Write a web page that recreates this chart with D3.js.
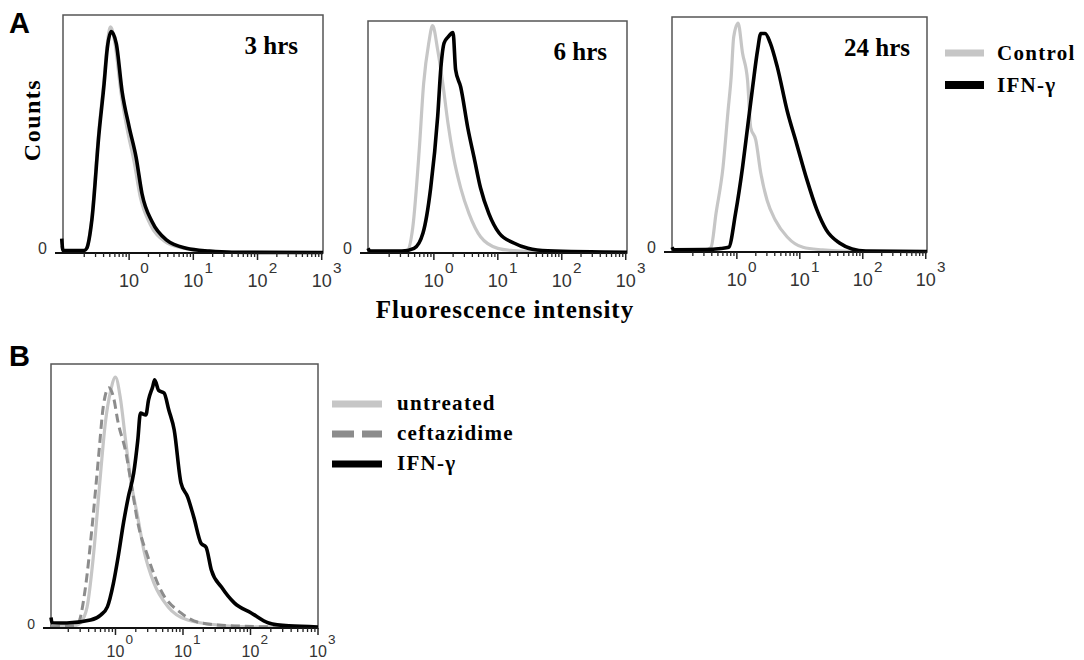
<!DOCTYPE html>
<html>
<head>
<meta charset="utf-8">
<script src="https://cdn.jsdelivr.net/npm/d3@7"></script>
<style>
  body { margin: 0; background: #fff; }
  svg { display: block; }
</style>
</head>
<body>
<svg id="chart" width="1084" height="660"></svg>
<script>
// histogram traces: [log10 fluorescence, % of max counts]
var ctrl3h = [[-1.05,3],[-1.03,1],[-0.70,1],[-0.66,2],[-0.58,15],[-0.47,52],[-0.39,73],[-0.34,88],[-0.29,95],[-0.22,88],[-0.13,68],[-0.03,52],[0.08,38],[0.17,24],[0.33,12],[0.55,5],[0.85,2],[1.2,0.8],[1.6,0.3],[3.02,0.2]];
var ifn3h = [[-1.05,6],[-1.03,1],[-0.70,1],[-0.66,2],[-0.58,14],[-0.47,50],[-0.39,71],[-0.34,86],[-0.28,93],[-0.20,88],[-0.11,68],[0.0,53],[0.11,40],[0.20,25],[0.36,13],[0.58,5.5],[0.89,2],[1.25,0.8],[1.6,0.3],[3.02,0.2]];

var ctrl6h = [[-1.03,0.5],[-0.5,0.6],[-0.41,1.3],[-0.33,11],[-0.23,44],[-0.16,73],[-0.08,90.5],[-0.02,98],[0.06,87.5],[0.14,73],[0.22,56],[0.31,41],[0.42,28],[0.55,17],[0.73,7],[1.0,2],[1.25,1],[1.7,0.4],[3.02,0.2]];
var ifn6h = [[-1.03,2],[-1.0,0.8],[-0.5,0.8],[-0.31,2],[-0.17,8.6],[-0.05,28],[0.06,59],[0.11,80],[0.16,90.5],[0.22,93],[0.30,95],[0.34,79],[0.42,71.5],[0.53,54],[0.63,41],[0.73,28],[0.86,17],[1.02,8.6],[1.25,4.3],[1.47,2],[1.78,0.9],[3.02,0.3]];

var ctrl24h = [[-1.03,0.5],[-0.5,0.8],[-0.41,2],[-0.33,16.6],[-0.22,36],[-0.14,60],[-0.09,74.5],[-0.05,91.5],[0.02,97.4],[0.09,84.7],[0.17,73],[0.22,53],[0.30,47.7],[0.38,33.6],[0.48,22],[0.61,13.6],[0.80,6.4],[1.05,2],[1.36,0.9],[1.8,0.3],[3.02,0.2]];
var ifn24h = [[-1.03,2],[-1.0,0.9],[-0.5,1],[-0.25,1.5],[-0.13,2],[-0.02,16.6],[0.09,36],[0.17,53],[0.25,70],[0.33,86],[0.38,93],[0.45,93],[0.53,89],[0.64,79],[0.80,60],[0.95,46],[1.11,31],[1.27,18],[1.42,9.4],[1.63,3.8],[1.83,1.3],[2.05,0.4],[3.02,0.2]];

var untreatedB = [[-0.955,0.5],[-0.6,0.8],[-0.52,1.9],[-0.42,8],[-0.33,26.5],[-0.22,58.7],[-0.15,77.7],[-0.07,90],[0.0,95],[0.07,87.5],[0.15,71],[0.22,57],[0.33,42],[0.42,29.5],[0.57,17],[0.78,8],[1.07,3],[1.52,1.1],[2.0,0.4],[3.0,0.2]];
var ceftazidimeB = [[-0.955,0.5],[-0.62,0.8],[-0.55,1.9],[-0.45,14.4],[-0.34,40],[-0.25,65],[-0.18,84],[-0.10,91],[-0.03,87.5],[0.04,77.7],[0.15,67],[0.25,52],[0.33,40],[0.48,27],[0.67,14.4],[0.97,5.7],[1.27,1.9],[1.76,0.8],[3.0,0.2]];
var ifnB = [[-0.955,4],[-0.94,2],[-0.72,1.9],[-0.37,3],[-0.22,4.9],[-0.12,8],[-0.03,17],[0.04,27],[0.12,40],[0.19,49.6],[0.27,58.7],[0.33,71],[0.37,81.4],[0.45,80.7],[0.49,86.4],[0.55,91.3],[0.58,94],[0.64,90],[0.72,89],[0.79,82.6],[0.87,75],[0.97,55],[1.07,49.6],[1.16,42],[1.27,32],[1.34,30.7],[1.42,22],[1.57,15.5],[1.76,9.5],[2.01,5.7],[2.27,1.9],[2.57,0.8],[3.0,0.4]];

var decades = [0, 1, 2, 3];
var timeLabels = ["3 hrs", "6 hrs", "24 hrs"];
var legendA = ["Control", "IFN-\u03b3"];
var legendB = ["untreated", "ceftazidime", "IFN-\u03b3"];

var svg = d3.select("#chart");
var serif = "'Liberation Serif', 'Times New Roman', serif";
var sans = "'Liberation Sans', Arial, sans-serif";

var drawPanel = function (p) {
  var x = d3.scaleLog().domain([Math.pow(10, p.lo), Math.pow(10, p.hi)]).range([p.left, p.right]);
  var y = d3.scaleLinear().domain([0, 100]).range([p.bottom, p.top]);
  var g = svg.append("g");

  // frame
  g.append("rect")
    .attr("x", p.left).attr("y", p.top)
    .attr("width", p.right - p.left).attr("height", p.bottom - p.top)
    .attr("fill", "none").attr("stroke", "#555").attr("stroke-width", 1.5);

  var line = d3.line()
    .x(function (d) { return x(Math.pow(10, d[0])); })
    .y(function (d) { return y(d[1]); })
    .curve(d3.curveMonotoneX);

  p.series.forEach(function (s) {
    g.append("path")
      .datum(s.data)
      .attr("d", line)
      .attr("fill", "none")
      .attr("stroke", s.color)
      .attr("stroke-width", s.width)
      .attr("stroke-dasharray", s.dash || null)
      .attr("stroke-linejoin", "round");
  });

  // bottom axis: major decades + minor 2..9
  var minor = [];
  for (var k = -1; k < 3; k++) {
    for (var m = 2; m < 10; m++) {
      var v = m * Math.pow(10, k);
      if (Math.log10(v) > p.lo) minor.push(v);
    }
  }
  g.append("line")
    .attr("x1", p.left - 8).attr("x2", p.right)
    .attr("y1", p.bottom).attr("y2", p.bottom)
    .attr("stroke", "#111").attr("stroke-width", 2);
  g.selectAll(".minor").data(minor).enter().append("line")
    .attr("x1", function (d) { return x(d); }).attr("x2", function (d) { return x(d); })
    .attr("y1", p.bottom).attr("y2", p.bottom + 4)
    .attr("stroke", "#222").attr("stroke-width", 1.3);
  g.selectAll(".major").data(decades).enter().append("line")
    .attr("x1", function (d) { return x(Math.pow(10, d)); }).attr("x2", function (d) { return x(Math.pow(10, d)); })
    .attr("y1", p.bottom).attr("y2", p.bottom + 7)
    .attr("stroke", "#222").attr("stroke-width", 1.5);

  g.selectAll(".tl").data(decades).enter().append("text")
    .attr("x", function (d) { return x(Math.pow(10, d)); })
    .attr("y", p.bottom + p.labelDy)
    .attr("text-anchor", "middle")
    .attr("font-family", sans).attr("font-size", p.labelSize).attr("fill", "#333")
    .text("10");
  g.selectAll(".ts").data(decades).enter().append("text")
    .attr("x", function (d) { return x(Math.pow(10, d)) + p.labelSize * 0.62; })
    .attr("y", p.bottom + p.labelDy - p.labelSize * 0.8)
    .attr("font-family", sans).attr("font-size", p.labelSize * 0.85).attr("fill", "#333")
    .text(function (d) { return d; });

  g.append("text")
    .attr("x", p.left - 16).attr("y", p.bottom + 1)
    .attr("text-anchor", "end")
    .attr("font-family", sans).attr("font-size", p.zeroSize).attr("fill", "#333")
    .text("0");

  if (p.title) {
    g.append("text")
      .attr("x", p.titleX).attr("y", p.top + 39)
      .attr("text-anchor", "end")
      .attr("font-family", serif).attr("font-weight", "bold").attr("font-size", 25)
      .text(p.title);
  }
};

var grey = "#c6c6c6";
var panelsA = [
  { left: 63, right: 323, top: 15, bottom: 253, title: timeLabels[0], titleX: 298, data: [ctrl3h, ifn3h] },
  { left: 368, right: 627, top: 21, bottom: 253, title: timeLabels[1], titleX: 607, data: [ctrl6h, ifn6h] },
  { left: 672, right: 927, top: 17, bottom: 252, title: timeLabels[2], titleX: 910, data: [ctrl24h, ifn24h] }
];
panelsA.forEach(function (p) {
  p.lo = -1.03; p.hi = 3.02;
  p.labelDy = 34; p.labelSize = 18; p.zeroSize = 16;
  p.series = [
    { data: p.data[0], color: grey, width: 3.2 },
    { data: p.data[1], color: "#000", width: 3.6 }
  ];
  drawPanel(p);
});

drawPanel({
  left: 51, right: 318, top: 364, bottom: 628, lo: -0.955, hi: 3.0,
  labelDy: 29, labelSize: 16, zeroSize: 14,
  series: [
    { data: untreatedB, color: grey, width: 3.2 },
    { data: ceftazidimeB, color: "#8c8c8c", width: 3, dash: "9,5" },
    { data: ifnB, color: "#000", width: 3.6 }
  ]
});

// panel letters and axis titles
svg.append("text").attr("x", 9).attr("y", 33)
  .attr("font-family", sans).attr("font-weight", "bold").attr("font-size", 29).text("A");
svg.append("text").attr("x", 9).attr("y", 366)
  .attr("font-family", sans).attr("font-weight", "bold").attr("font-size", 29).text("B");
svg.append("text")
  .attr("transform", "translate(40,120) rotate(-90)")
  .attr("text-anchor", "middle")
  .attr("font-family", serif).attr("font-weight", "bold").attr("font-size", 24)
  .attr("letter-spacing", 1.5)
  .text("Counts");
svg.append("text")
  .attr("x", 505).attr("y", 318)
  .attr("text-anchor", "middle")
  .attr("font-family", serif).attr("font-weight", "bold").attr("font-size", 25)
  .attr("letter-spacing", 1)
  .text("Fluorescence intensity");

// legends
var legA = svg.append("g");
legA.selectAll("line").data(legendA).enter().append("line")
  .attr("x1", 945).attr("x2", 984)
  .attr("y1", function (d, i) { return 53 + i * 32; })
  .attr("y2", function (d, i) { return 53 + i * 32; })
  .attr("stroke", function (d, i) { return i === 0 ? grey : "#000"; })
  .attr("stroke-width", function (d, i) { return i === 0 ? 7 : 8; });
legA.selectAll("text").data(legendA).enter().append("text")
  .attr("x", 997)
  .attr("y", function (d, i) { return 60 + i * 32; })
  .attr("font-family", serif).attr("font-weight", "bold").attr("font-size", 21)
  .attr("letter-spacing", 1.3)
  .text(function (d) { return d; });

var legColors = [grey, "#8c8c8c", "#000"];
var legB = svg.append("g");
legB.selectAll("line").data(legendB).enter().append("line")
  .attr("x1", 332).attr("x2", 382)
  .attr("y1", function (d, i) { return 404 + i * 30; })
  .attr("y2", function (d, i) { return 404 + i * 30; })
  .attr("stroke", function (d, i) { return legColors[i]; })
  .attr("stroke-width", 7)
  .attr("stroke-dasharray", function (d, i) { return i === 1 ? "22,8" : null; });
legB.selectAll("text").data(legendB).enter().append("text")
  .attr("x", 397)
  .attr("y", function (d, i) { return 410 + i * 30; })
  .attr("font-family", serif).attr("font-weight", "bold").attr("font-size", 21)
  .attr("letter-spacing", 1.3)
  .text(function (d) { return d; });
</script>
</body>
</html>
